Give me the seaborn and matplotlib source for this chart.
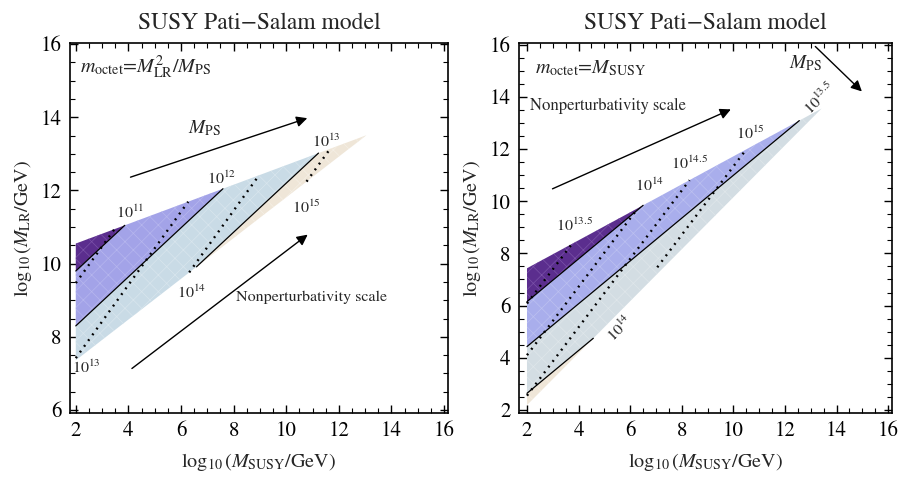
import numpy as np
import matplotlib
matplotlib.use("Agg")
import matplotlib.pyplot as plt
import seaborn as sns

sns.set_theme(style="ticks")
plt.rcParams['font.family'] = ['STIXGeneral', 'DejaVu Serif']
plt.rcParams['mathtext.fontset'] = 'stix'
plt.rcParams['hatch.linewidth'] = 0.5

# ---------------- data ----------------
# Left panel: m_octet = M_LR^2 / M_PS
left_region_x = [2.0, 2.0, 13.05]          # top-left, bottom-left, tip
left_region_y = [10.55, 7.36, 13.51]
left_mps_slope = 0.67
left_mps_icpt = [9.80, 8.30, 6.84]        # log10 M_LR at M_SUSY=10^2
left_mps_labels = ["$10^{11}$", "$10^{12}$", "$10^{13}$"]
left_np_slope = 1.0
left_np_icpt = [9.47, 7.42, 5.45, 3.47]   # dotted contours
left_np_xstart = [2.0, 2.0, 2.0, 2.0]
left_np_labels = ["", "$10^{13}$", "$10^{14}$", "$10^{15}$"]

# Right panel: m_octet = M_SUSY
right_region_x = [2.0, 2.0, 13.42]
right_region_y = [7.43, 2.19, 13.55]
right_mps_slope = 0.82
right_mps_icpt = [6.15, 4.43, 2.64]
right_np_slope = 1.31
right_np_icpt = [6.08, 4.10, 2.55, 0.85]
right_np_xstart = [2.0, 2.0, 2.0, 7.05]
right_np_labels = ["$10^{13.5}$", "$10^{14}$", "$10^{14.5}$", "$10^{15}$"]

left_colors = ["#5b2e8e", "#a3a3e8", "#c9dbe6", "#efe6d8"]
left_hatch = ["#7a52a8", "#b6b6ee", "#d8e5ed", "#f5efe6"]
right_colors = ["#5b2e8e", "#a9aeec", "#d3dde3", "#efe6d8"]
right_hatch = ["#7a52a8", "#bcc0f0", "#dfe6ea", "#f5efe6"]

ANN = 11.5


def draw_panel(ax, rx, ry, mps_s, mps_c, np_s, np_c, np_x0, colors, hcolors):
    x = np.linspace(rx[0], rx[2], 2000)
    top = ry[0] + (ry[2] - ry[0]) * (x - rx[0]) / (rx[2] - rx[0])
    bot = ry[1] + (ry[2] - ry[1]) * (x - rx[1]) / (rx[2] - rx[1])
    lines = [c + mps_s * (x - 2.0) for c in mps_c]
    bounds = [top] + lines + [bot]
    for i in range(len(bounds) - 1):
        upper = np.minimum(top, bounds[i])
        lower = np.maximum(bot, bounds[i + 1])
        ax.fill_between(x, lower, upper, where=upper > lower, interpolate=True,
                        facecolor=colors[i], edgecolor=hcolors[i], hatch="xx",
                        linewidth=0, zorder=1)
    for ln in lines:
        m = (ln <= top + 1e-9) & (ln >= bot - 1e-9)
        ax.plot(x[m], ln[m], color="black", lw=0.9, zorder=3)
    for c, x0 in zip(np_c, np_x0):
        ln = c + np_s * (x - 2.0)
        m = (ln <= top + 1e-9) & (ln >= bot - 1e-9) & (x >= x0)
        ax.plot(x[m], ln[m], color="black", lw=1.7, ls=(0, (0.8, 2.2)),
                dash_capstyle="butt", zorder=3)


def style_axes(ax, xlim, ylim):
    ax.set_xlim(*xlim)
    ax.set_ylim(*ylim)
    ax.set_xticks(np.arange(2, 17, 2))
    ax.set_xticks(np.arange(2, 16.01, 0.5), minor=True)
    ax.tick_params(which="both", direction="in", top=True, right=True,
                   labelsize=15, colors="black", pad=6)
    ax.tick_params(which="major", length=6, width=1)
    ax.tick_params(which="minor", length=3.5, width=0.8)
    for sp in ax.spines.values():
        sp.set_linewidth(1.2)
        sp.set_color("black")
    ax.set_title("SUSY Pati\u2212Salam model", fontsize=17, pad=10)
    ax.set_xlabel(r"$\log_{10}(M_{\rm SUSY}/{\rm GeV})$", fontsize=14.5, labelpad=7)
    ax.set_ylabel(r"$\log_{10}(M_{\rm LR}/{\rm GeV})$", fontsize=14.5, labelpad=5)


fig = plt.figure(figsize=(9.01, 4.79), dpi=100)
ax1 = fig.add_axes([70 / 901, 1 - 413 / 479, 378 / 901, 370 / 479])
ax2 = fig.add_axes([519 / 901, 1 - 413 / 479, 373 / 901, 370 / 479])

arrow = dict(arrowstyle="-|>", color="black", lw=1, mutation_scale=16)

# ---- left panel ----
draw_panel(ax1, left_region_x, left_region_y, left_mps_slope, left_mps_icpt,
           left_np_slope, left_np_icpt, left_np_xstart, left_colors, left_hatch)
style_axes(ax1, (1.78, 16.15), (5.92, 16.03))
ax1.set_yticks(np.arange(6, 17, 2))
ax1.set_yticks(np.arange(6, 16.01, 0.5), minor=True)

ax1.text(2.15, 15.37, "$m_{\\rm octet}$=$M_{\\rm LR}^2/M_{\\rm PS}$", fontsize=14.5,
         va="center", ha="left")
ax1.text(6.9, 13.7, "$M_{\\rm PS}$", fontsize=14, ha="center", va="center")
ax1.text(10.97, 9.09, "Nonperturbativity scale", fontsize=ANN, ha="center", va="center")
ax1.annotate("", xy=(10.9, 14.0), xytext=(3.98, 12.34), arrowprops=arrow)
ax1.annotate("", xy=(10.9, 10.84), xytext=(4.05, 7.09), arrowprops=arrow)
left_mps_label_pos = [(4.05, 11.41), (7.54, 12.33), (11.53, 13.33)]
for (px, py), t in zip(left_mps_label_pos, left_mps_labels):
    ax1.text(px, py, t, fontsize=ANN, ha="center", va="center")
left_np_label_pos = [None, (2.41, 7.18), (6.4, 9.23), (10.77, 11.55)]
for pos, t in zip(left_np_label_pos, left_np_labels):
    if pos is not None:
        ax1.text(pos[0], pos[1], t, fontsize=ANN, ha="center", va="center")

# ---- right panel ----
draw_panel(ax2, right_region_x, right_region_y, right_mps_slope, right_mps_icpt,
           right_np_slope, right_np_icpt, right_np_xstart, right_colors, right_hatch)
style_axes(ax2, (1.69, 16.15), (1.885, 16.06))
ax2.set_yticks(np.arange(2, 17, 2))
ax2.set_yticks(np.arange(2, 16.01, 0.5), minor=True)

ax2.text(2.31, 15.1, "$m_{\\rm octet}$=$M_{\\rm SUSY}$", fontsize=14.5,
         va="center", ha="left")
ax2.text(2.12, 13.65, "Nonperturbativity scale", fontsize=ANN + 0.5, ha="left", va="center")
ax2.text(12.78, 15.3, "$M_{\\rm PS}$", fontsize=14, ha="center", va="center")
ax2.annotate("", xy=(10.0, 13.56), xytext=(2.89, 10.43), arrowprops=arrow)
ax2.annotate("", xy=(15.06, 14.13), xytext=(13.1, 16.0), arrowprops=arrow)
right_np_label_pos = [(3.86, 9.09), (6.77, 10.62), (8.32, 11.45), (10.64, 12.6)]
for (px, py), t in zip(right_np_label_pos, right_np_labels):
    ax2.text(px, py, t, fontsize=ANN, ha="center", va="center")
ax2.text(13.36, 13.94, "$10^{13.5}$", fontsize=ANN, ha="center", va="center", rotation=45)
ax2.text(5.6, 5.13, "$10^{14}$", fontsize=ANN, ha="center", va="center", rotation=45)

fig.savefig("out.png", dpi=100)
